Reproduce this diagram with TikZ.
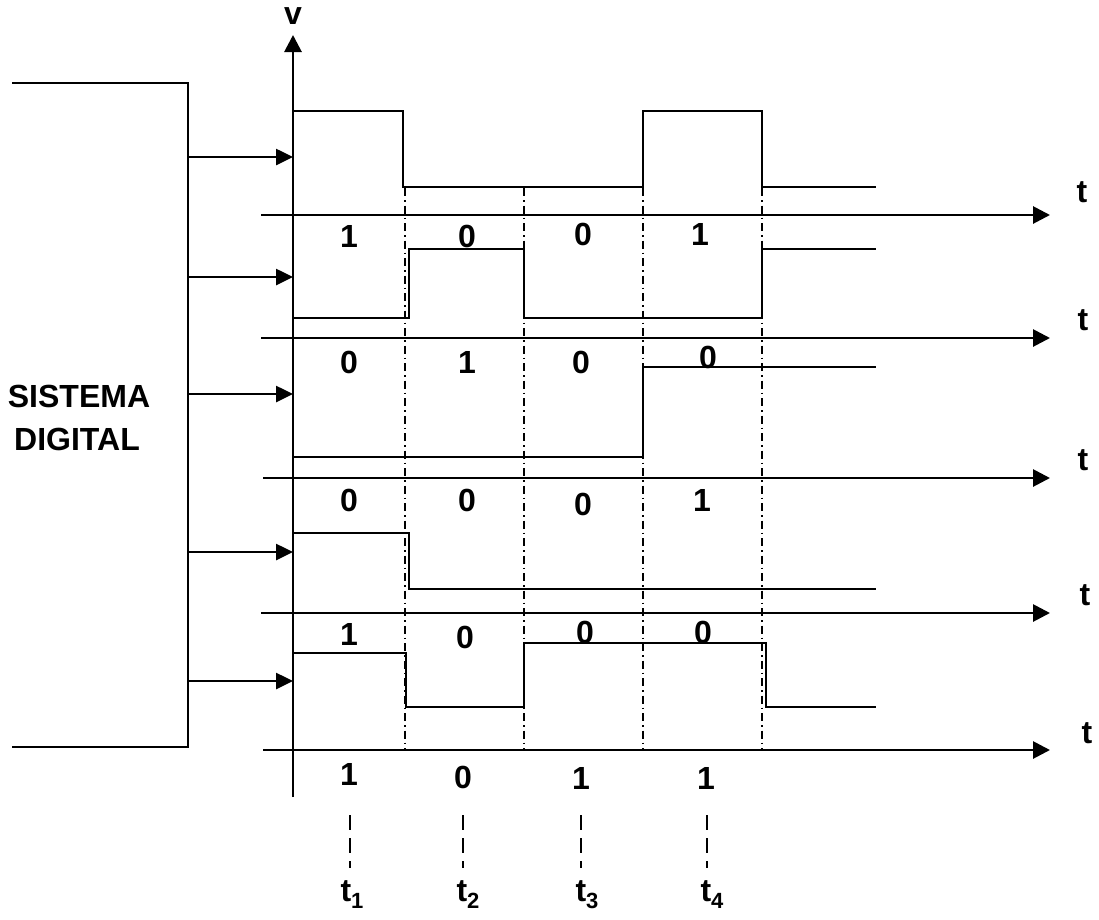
\documentclass[tikz,border=0pt]{standalone}
\usepackage{fontspec}
\setmainfont{Liberation Sans}
\usetikzlibrary{arrows.meta}
\begin{document}
\begin{tikzpicture}[x=1pt,y=-1pt,
  axis/.style={line width=2.8pt,-{Triangle[length=17pt,width=17pt]}},
  inarrow/.style={line width=2.6pt,-{Triangle[length=17pt,width=16pt]}},
  wave/.style={line width=2.4pt,line join=miter},
  frame/.style={line width=2.4pt},
  dashdot/.style={line width=1.5pt,dash pattern=on 8pt off 4pt on 1.5pt off 4pt},
  tickdash/.style={line width=1.5pt,dash pattern=on 15pt off 8pt},
  lbl/.style={font=\bfseries\fontsize{32}{38}\selectfont,inner sep=0pt}
]
\useasboundingbox (0,0) rectangle (1099,919);

% digital system bracket
\coordinate (bt0) at (12,83);
\coordinate (bt1) at (188,83);
\coordinate (bb1) at (188,747);
\coordinate (bb0) at (12,747);
\draw[frame] (bt0) -- (bt1) -- (bb1) -- (bb0);
\node[lbl,anchor=base] (sis) at (79,407) {SISTEMA};
\node[lbl,anchor=base] (dig) at (77,450) {DIGITAL};

% v axis
\coordinate (v0) at (293,797);
\coordinate (v1) at (293,35);
\draw[axis] (v0) -- (v1);
\node[lbl] (vl) at (293,16) {v};

% input arrows
\foreach \i/\y in {1/157,2/277,3/394,4/552,5/681}{
  \coordinate (a\i) at (188,\y);
  \coordinate (b\i) at (293,\y);
  \draw[inarrow] (a\i) -- (b\i);
}

% time axes
\foreach \i/\y/\xs/\tx/\ty in {1/215/261/1082/192,2/338/261/1083/320,3/478/263/1083/460,4/613/261/1085/595,5/750/263/1087/733}{
  \coordinate (ta\i) at (\xs,\y);
  \coordinate (tb\i) at (1050,\y);
  \draw[axis] (ta\i) -- (tb\i);
  \node[lbl] (tl\i) at (\tx,\ty) {t};
}

% dash-dot time separators
\foreach \i/\x in {1/405,2/524,3/643,4/762}{
  \coordinate (d\i a) at (\x,188);
  \coordinate (d\i b) at (\x,750);
  \draw[dashdot] (d\i a) -- (d\i b);
}

% waveforms
\draw[wave] (293,111) -- (403,111) -- (403,187) -- (643,187) -- (643,111) -- (762,111) -- (762,187) -- (876,187);
\draw[wave] (293,318) -- (409,318) -- (409,249) -- (524,249) -- (524,318) -- (762,318) -- (762,249) -- (876,249);
\draw[wave] (293,457) -- (643,457) -- (643,367) -- (876,367);
\draw[wave] (293,533) -- (409,533) -- (409,589) -- (876,589);
\draw[wave] (293,653) -- (406,653) -- (406,707) -- (524,707) -- (524,643) -- (766,643) -- (766,707) -- (876,707);

% bit labels
\foreach \n/\x/\y/\t in {
  r1a/349/236/1, r1b/467/236/0, r1c/583/234/0, r1d/700/234/1,
  r2a/349/362/0, r2b/467/362/1, r2c/581/362/0, r2d/708/357/0,
  r3a/349/500/0, r3b/467/500/0, r3c/583/504/0, r3d/702/500/1,
  r4a/349/634/1, r4b/465/637/0, r4c/585/632/0, r4d/703/632/0,
  r5a/349/774/1, r5b/463/777/0, r5c/581/778/1, r5d/706/778/1}{
  \node[lbl] (\n) at (\x,\y) {\t};
}

% sampling instants
\foreach \i/\x/\lx in {1/350/352,2/463/468,3/581/587,4/707/712}{
  \coordinate (s\i a) at (\x,815);
  \coordinate (s\i b) at (\x,868);
  \draw[tickdash] (s\i a) -- (s\i b);
  \node[lbl,anchor=base] (tt\i) at (\lx,901) {t\raisebox{-7pt}{\fontsize{22}{22}\selectfont\bfseries \i}};
}
\end{tikzpicture}
\end{document}
